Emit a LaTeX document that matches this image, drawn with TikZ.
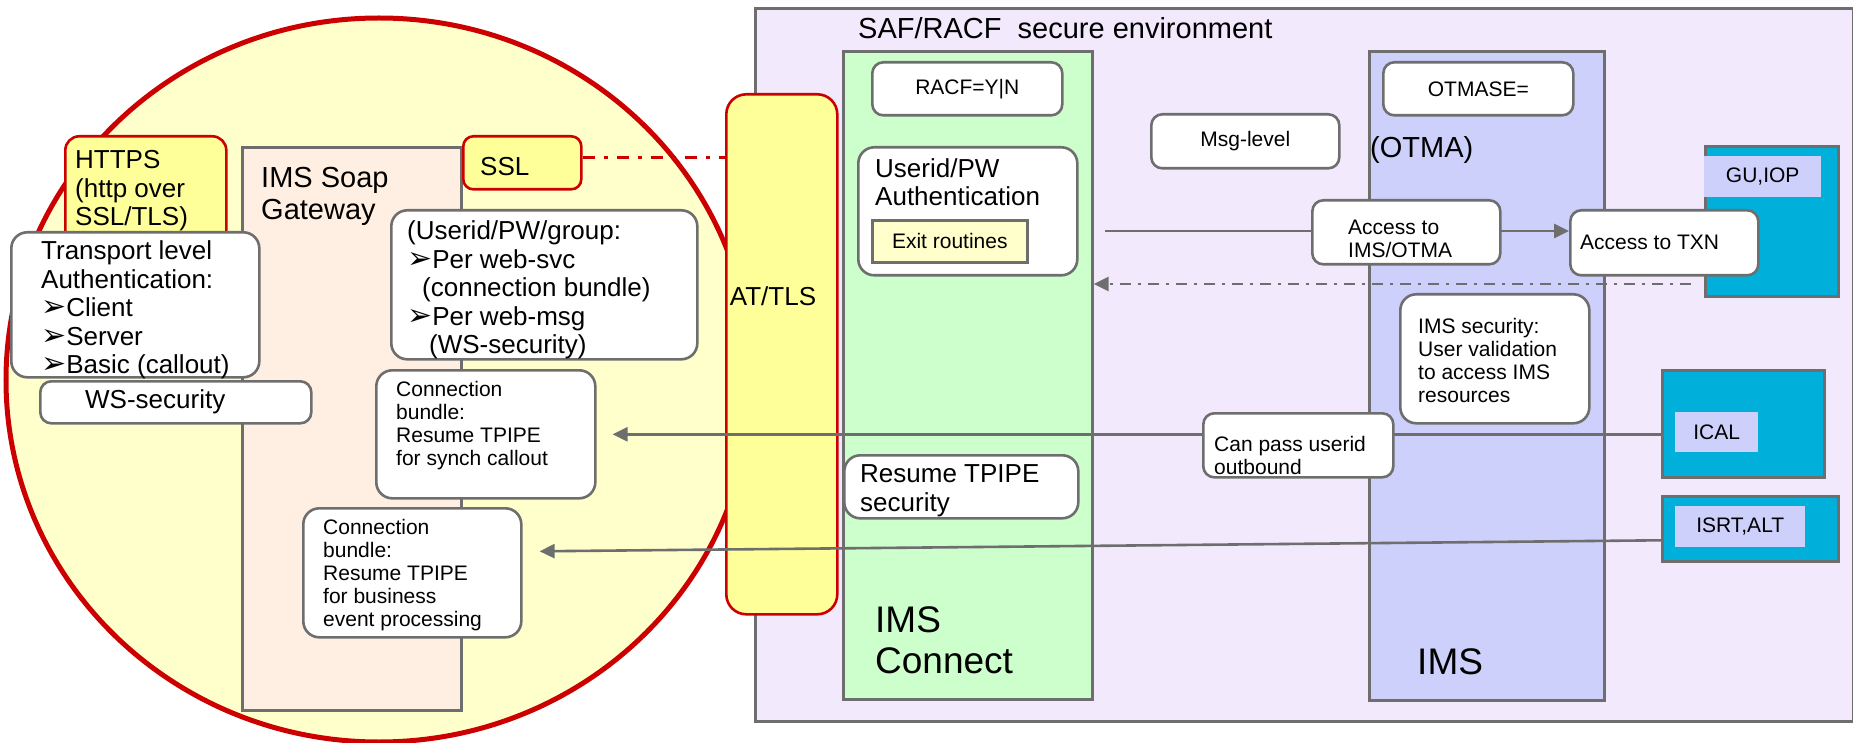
\documentclass[tikz,border=0pt]{standalone}
\usepackage{fontspec}
\setmainfont{Liberation Sans}
\newfontfamily\dingfont{DejaVu Sans}
\usepackage{tikz}
\usetikzlibrary{arrows.meta}
\definecolor{linegray}{HTML}{6E6E6E}
\definecolor{ringred}{HTML}{CC0000}
\definecolor{paleyellow}{HTML}{FFFFCC}
\definecolor{tlsyellow}{HTML}{FFFF99}
\definecolor{gwpeach}{HTML}{FFEFE2}
\definecolor{envlilac}{HTML}{F2EAFC}
\definecolor{connectgreen}{HTML}{CCFFCC}
\definecolor{imsblue}{HTML}{CCD0FA}
\definecolor{dlicyan}{HTML}{00B0DA}
\newcommand{\bul}{{\dingfont\fontsize{30}{28.5}\selectfont ➢}}
\tikzset{%
  area/.style={
    draw=linegray,
    line width=2.6pt,
    anchor=north west,
    inner sep=0pt
  },
  round box/.style={area, fill=white, rounded corners=16pt},
  small box/.style={area, fill=white, rounded corners=11pt},
  red box/.style={
    draw=ringred,
    line width=2.6pt,
    fill=tlsyellow,
    rounded corners=14pt,
    anchor=north west,
    inner sep=0pt
  },
  tag/.style={fill=imsblue, anchor=north west, inner sep=0pt, small text},
  txt/.style={anchor=west, inner sep=0pt, align=left},
  big text/.style={font=\fontsize{26}{28.5}\selectfont},
  small text/.style={font=\fontsize{21}{23}\selectfont},
  title text/.style={font=\fontsize{29}{32}\selectfont},
  huge text/.style={font=\fontsize{37}{41}\selectfont},
  flow/.style={draw=linegray, line width=2.6pt, -{Triangle[length=15pt,width=14pt]}},
}

\begin{document}
\begin{tikzpicture}[x=1pt, y=-1pt]
\fill[white] (0,0) rectangle (1853,743);
\useasboundingbox (0,0) rectangle (1853,743);
\draw[ringred, line width=5pt, fill=paleyellow] (379,380) ellipse [x radius=373pt, y radius=362pt];

% host side
\node[area, fill=envlilac, minimum width=1098pt, minimum height=713pt] (env) at (754,7) {};
\node[txt, title text] (env_txt) at (858,28) {SAF/RACF\ \ secure environment};
\node[area, fill=connectgreen, minimum width=249pt, minimum height=648pt] (connect) at (842,50) {};
\node[area, fill=imsblue, minimum width=235pt, minimum height=649pt] (ims) at (1368,50) {};
\node[txt, huge text] (connect_txt) at (875,640) {IMS\\Connect};
\node[txt, huge text] (ims_txt) at (1417,662) {IMS};
\node[txt, title text] (otma_txt) at (1370,150) {(OTMA)};
\node[red box, rounded corners=20pt, minimum width=111pt, minimum height=520pt] (tls) at (725,93) {};
\node[big text, inner sep=0pt] (tls_txt) at (773,296) {AT/TLS};

% soap gateway
\node[area, fill=gwpeach, minimum width=219pt, minimum height=563pt] (gateway) at (241,146) {};
\node[txt, title text] (gateway_txt) at (261,196) {IMS Soap\\Gateway};
\node[red box, minimum width=161pt, minimum height=112pt] (https) at (64,135) {};
\node[txt, big text] (https_txt) at (75,191) {HTTPS\\(http over\\SSL/TLS)};
\node[red box, rounded corners=10pt, minimum width=118pt, minimum height=53pt] (ssl) at (462,135) {};
\node[txt, big text] (ssl_txt) at (480,167) {SSL};
\draw[ringred, line width=2.6pt, dash pattern=on 12pt off 9pt on 4pt off 9pt]
  ([yshift=5pt]ssl.east) -- ([yshift=5pt]ssl.east -| tls.west);
\node[round box, minimum width=248pt, minimum height=145pt] (transport) at (10,231) {};
\node[txt, big text] (transport_txt) at (41,310) {Transport level\\Authentication:\\\bul Client\\\bul Server\\\bul Basic (callout)};
\node[small box, minimum width=271pt, minimum height=42pt] (wssec) at (39,380) {};
\node[txt, big text] (wssec_txt) at (85,402) {WS-security};
\node[round box, minimum width=306pt, minimum height=149pt] (group) at (390,209) {};
\node[txt, big text] (group_txt) at (407,290) {(Userid/PW/group:\\\bul Per web-svc\\\hspace*{15pt}(connection bundle)\\\bul Per web-msg\\\hspace*{22pt}(WS-security)};
\node[round box, minimum width=219pt, minimum height=128pt] (synch) at (375,369) {};
\node[txt, small text] (synch_txt) at (396,426) {Connection\\bundle:\\Resume TPIPE\\for synch callout};
\node[round box, minimum width=218pt, minimum height=129pt] (business) at (302,507) {};
\node[txt, small text] (business_txt) at (323,575) {Connection\\bundle:\\Resume TPIPE\\for business\\event processing};

% ims connect and ims
\node[small box, small text, minimum width=190pt, minimum height=53pt] (racf) at (871,61) {RACF=Y|N};
\node[small box, small text, minimum width=190pt, minimum height=53pt] (otmase) at (1382,61) {OTMASE=};
\node[small box, small text, minimum width=188pt, minimum height=54pt] (msglevel) at (1150,113) {Msg-level};
\node[round box, minimum width=219pt, minimum height=128pt] (auth) at (857,146) {};
\node[txt, big text] (auth_txt) at (875,182) {Userid/PW\\Authentication};
\node[area, fill=paleyellow, small text, minimum width=155pt, minimum height=42pt] (exit) at (871,219) {Exit routines};
\node[round box, minimum width=234pt, minimum height=63pt] (resume) at (843,454) {};
\node[txt, big text] (resume_txt) at (860,491) {Resume TPIPE\\security};
\node[round box, minimum width=189pt, minimum height=129pt] (imssec) at (1399,293) {};
\node[txt, small text] (imssec_txt) at (1418,360) {IMS security:\\User validation\\to access IMS\\resources};

% dl/i calls
\node[area, fill=dlicyan, minimum width=133pt, minimum height=150pt] (guiop) at (1704,145) {};
\node[tag, minimum width=117pt, minimum height=41pt] (guiop_tag) at (1704,156) {GU,IOP};
\node[area, fill=dlicyan, minimum width=162pt, minimum height=107pt] (ical) at (1661,369) {};
\node[tag, minimum width=83pt, minimum height=40pt] (ical_tag) at (1675,412) {ICAL};
\node[area, fill=dlicyan, minimum width=176pt, minimum height=65pt] (isrt) at (1661,495) {};
\node[tag, minimum width=130pt, minimum height=41pt] (isrt_tag) at (1675,506) {ISRT,ALT};

% flows
\node[small box, minimum width=188pt, minimum height=65pt] (txn) at (1569,209) {};
\node[txt, small text] (txn_txt) at (1580,242) {Access to TXN};
\coordinate (req) at (1105,231);
\coordinate (resp) at (1691,284);
\coordinate (isrt_out) at ([yshift=-11.5pt]isrt.west);
\coordinate (business_in) at ([xshift=17pt,yshift=21.5pt]business.east);
\draw[flow] (req) -- (req -| txn.west);
\draw[flow, dash pattern=on 11pt off 7pt on 3pt off 7pt] (resp) -- (resp -| connect.east);
\draw[flow] (ical.west |- synch.east) -- ([xshift=16pt]synch.east);
\draw[flow] (isrt_out) -- (business_in);
\node[small box, minimum width=188pt, minimum height=64pt] (otmaacc) at (1311,199) {};
\node[txt, small text] (otmaacc_txt) at (1348,239) {Access to\\IMS/OTMA};
\node[small box, minimum width=190pt, minimum height=64pt] (canpass) at (1202,412) {};
\node[txt, small text] (canpass_txt) at (1214,455) {Can pass userid\\outbound};
\end{tikzpicture}
\end{document}
